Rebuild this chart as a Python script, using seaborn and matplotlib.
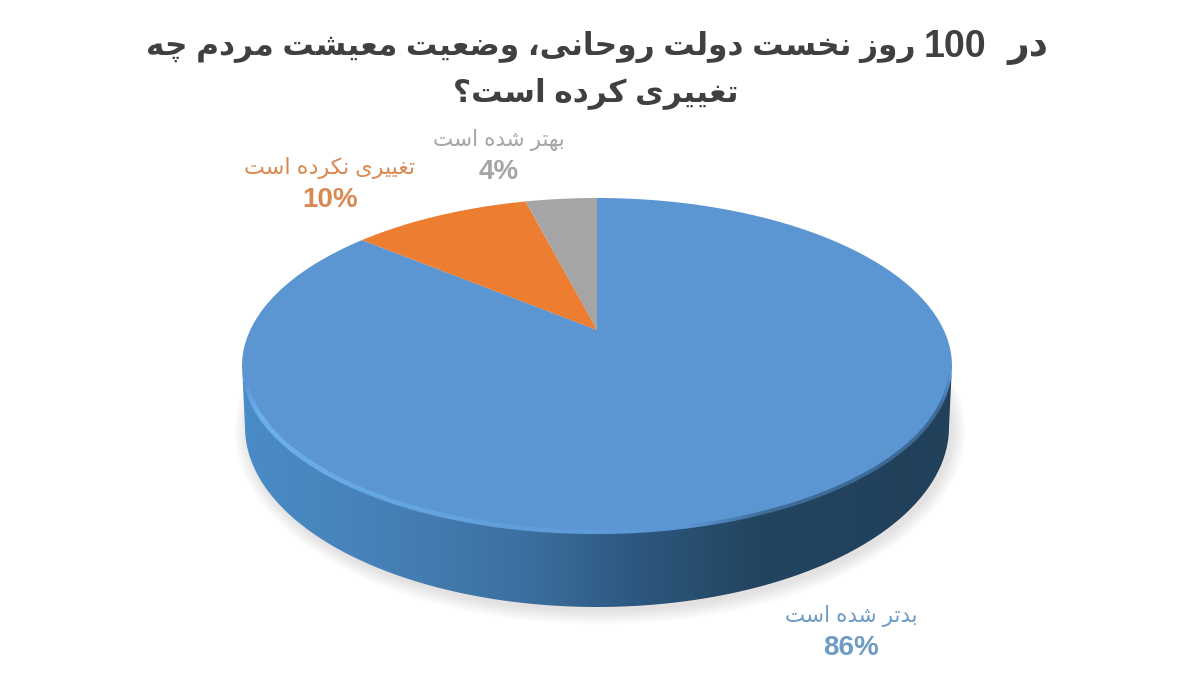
import numpy as np
import matplotlib
matplotlib.use("Agg")
import matplotlib.pyplot as plt
import seaborn as sns
from matplotlib.collections import LineCollection
from matplotlib.colors import LinearSegmentedColormap, to_rgba
from matplotlib.patches import Ellipse, Polygon
from matplotlib.path import Path
from matplotlib.transforms import Affine2D, Transform

# ---- data
categories = ["بدتر شده است", "تغییری نکرده است", "بهتر شده است"]
values = [86, 10, 4]
colors = ["#5b96d3", "#ed7d31", "#a5a5a5"]
label_colors = ["#6f9cc4", "#d98a52", "#a6a6a6"]
label_xy = [(851, 616), (330, 168), (499, 140)]
title_parts = ["در", "100", "روز نخست دولت روحانی، وضعیت معیشت مردم چه"]
title_part_right = [1048, 986, 916]
title_part_size = [27, 27, 22.5]
title_line2 = "تغییری کرده است؟"

# ---- Persian shaping (matplotlib has no text shaper)
FORMS = {
    "ا": (0xFE8D, 0xFE8E), "ب": (0xFE8F, 0xFE90, 0xFE91, 0xFE92), "ت": (0xFE95, 0xFE96, 0xFE97, 0xFE98),
    "ح": (0xFEA1, 0xFEA2, 0xFEA3, 0xFEA4), "خ": (0xFEA5, 0xFEA6, 0xFEA7, 0xFEA8),
    "چ": (0xFB7A, 0xFB7B, 0xFB7C, 0xFB7D), "د": (0xFEA9, 0xFEAA), "ر": (0xFEAD, 0xFEAE), "ز": (0xFEAF, 0xFEB0),
    "س": (0xFEB1, 0xFEB2, 0xFEB3, 0xFEB4), "ش": (0xFEB5, 0xFEB6, 0xFEB7, 0xFEB8),
    "ض": (0xFEBD, 0xFEBE, 0xFEBF, 0xFEC0), "ع": (0xFEC9, 0xFECA, 0xFECB, 0xFECC),
    "غ": (0xFECD, 0xFECE, 0xFECF, 0xFED0), "ک": (0xFB8E, 0xFB8F, 0xFB90, 0xFB91),
    "ل": (0xFEDD, 0xFEDE, 0xFEDF, 0xFEE0), "م": (0xFEE1, 0xFEE2, 0xFEE3, 0xFEE4),
    "ن": (0xFEE5, 0xFEE6, 0xFEE7, 0xFEE8), "ه": (0xFEE9, 0xFEEA, 0xFEEB, 0xFEEC), "و": (0xFEED, 0xFEEE),
    "ی": (0xFBFC, 0xFBFD, 0xFBFE, 0xFBFF),
}


def shape(text):
    out = []
    for i, ch in enumerate(text):
        if ch not in FORMS:
            out.append(ch)
            continue
        prev = text[i - 1] if i else " "
        nxt = text[i + 1] if i + 1 < len(text) else " "
        joins_prev = prev in FORMS and len(FORMS[prev]) == 4
        joins_next = nxt in FORMS and len(FORMS[ch]) == 4
        f = FORMS[ch]
        if joins_prev and joins_next:
            out.append(chr(f[3]))
        elif joins_prev:
            out.append(chr(f[1]))
        elif joins_next:
            out.append(chr(f[2]))
        else:
            out.append(chr(f[0]))
    tokens = "".join(out).split(" ")
    tokens = [t if t.isdigit() else t[::-1] for t in tokens]
    return " ".join(tokens[::-1])


# ---- perspective: unit pie -> tilted disc in pixel coordinates
CX, CY, HALF_W, HALF_H, TIP = 597.0, 366.0, 355.0, 168.0, 36.0
K = TIP / HALF_H
A = HALF_W * np.sqrt(1 - (TIP / HALF_H) ** 2)


class Tilt(Transform):
    input_dims = output_dims = 2
    is_affine = False
    has_inverse = False

    def transform_non_affine(self, xy):
        xy = np.asarray(xy, float)
        w = 1 + K * xy[:, 1]
        return np.column_stack([CX + A * xy[:, 0] / w, CY - (HALF_H * xy[:, 1] + TIP) / w])

    def transform_path_non_affine(self, path):
        poly = path.transformed(Affine2D().scale(400)).to_polygons(closed_only=False)[0] / 400
        return Path(self.transform_non_affine(poly))


sns.set_theme(style="white")
plt.rcParams["font.family"] = ["Liberation Sans", "DejaVu Sans"]

fig = plt.figure(figsize=(12, 6.92), dpi=100, facecolor="white")
ax = fig.add_axes([0, 0, 1, 1])

wedges, _ = ax.pie(values, colors=sns.color_palette(colors), startangle=90, counterclock=False,
                   wedgeprops={"linewidth": 0, "zorder": 5})
tilt = Tilt()
for w in wedges:
    w.set_transform(tilt + ax.transData)

ax.set_xlim(0, 1200)
ax.set_ylim(692, 0)
ax.set_aspect("equal")
ax.axis("off")

# soft shadow under the disc
for i in range(10):
    ax.add_patch(Ellipse((600, 431), 704 + 3 * i, 360 + 3 * i, fc="#6b6458", ec="none", alpha=0.016, zorder=1))

# side wall
t = np.linspace(np.pi, 0, 200)
top_x, top_y = CX + HALF_W * np.cos(t), CY + HALF_H * np.sin(t)
low_x, low_y = CX + 352 * np.cos(t), 427 + 180 * np.sin(t)
wall = Polygon(np.vstack([np.column_stack([low_x, low_y]),
                          np.column_stack([top_x[::-1], top_y[::-1] - 2])]),
               closed=True, fc="none", ec="none", zorder=2)
ax.add_patch(wall)
cmap = LinearSegmentedColormap.from_list("wall", [
    (0.0, "#4a8cc8"), (0.22, "#467fb6"), (0.4, "#3c6f9f"), (0.55, "#2d5880"),
    (0.72, "#234560"), (1.0, "#21405a")])
im = ax.imshow(np.linspace(0, 1, 256)[None, :], extent=(240, 955, 610, 360), cmap=cmap, aspect="auto",
               zorder=2, vmin=0, vmax=1)
im.set_clip_path(wall)
ax.set_xlim(0, 1200)
ax.set_ylim(692, 0)

# light rim along the lower left edge of the top face
t = np.linspace(np.pi * 0.97, np.pi * 0.42, 160)
rx, ry = CX + (HALF_W - 2) * np.cos(t), CY + (HALF_H - 2) * np.sin(t)
pts = np.column_stack([rx, ry])
segs = np.stack([pts[:-1], pts[1:]], axis=1)
fade = np.clip(np.linspace(1.1, 0, len(segs)), 0, 1) * np.clip(np.linspace(0, 8, len(segs)), 0, 1)
ax.add_collection(LineCollection(segs, colors=[to_rgba("#6db4f0", a) for a in fade], linewidths=3.5, zorder=6))

# dark blurred rim on the right edge
t = np.linspace(np.pi * 0.42, 0.04, 120)
rx, ry = CX + (HALF_W - 1.5) * np.cos(t), CY + (HALF_H - 1.5) * np.sin(t)
pts = np.column_stack([rx, ry])
segs = np.stack([pts[:-1], pts[1:]], axis=1)
fade = 0.6 * np.clip(np.linspace(0, 5, len(segs)), 0, 1) * np.clip(np.linspace(6, 0, len(segs)), 0, 1)
ax.add_collection(LineCollection(segs, colors=[to_rgba("#2a4c6c", a) for a in fade], linewidths=3, zorder=6))

# title
for part, right, size in zip(title_parts, title_part_right, title_part_size):
    ax.text(right, 47, shape(part), fontsize=size, fontweight="bold", color="#404040",
            ha="right", va="center", zorder=10)
ax.text(596, 93, shape(title_line2), fontsize=22.5, fontweight="bold", color="#404040",
        ha="center", va="center", zorder=10)

# labels
for name, val, col, (x, y) in zip(categories, values, label_colors, label_xy):
    size = 16 if val == 10 else 15.5
    ax.text(x, y, shape(name), fontsize=size, color=col, ha="center", va="center", zorder=10)
    ax.text(x, y + 32, f"{val}%", fontsize=20, fontweight="bold", color=col, ha="center", va="center", zorder=10)

fig.savefig("out.png", dpi=100, facecolor="white")
